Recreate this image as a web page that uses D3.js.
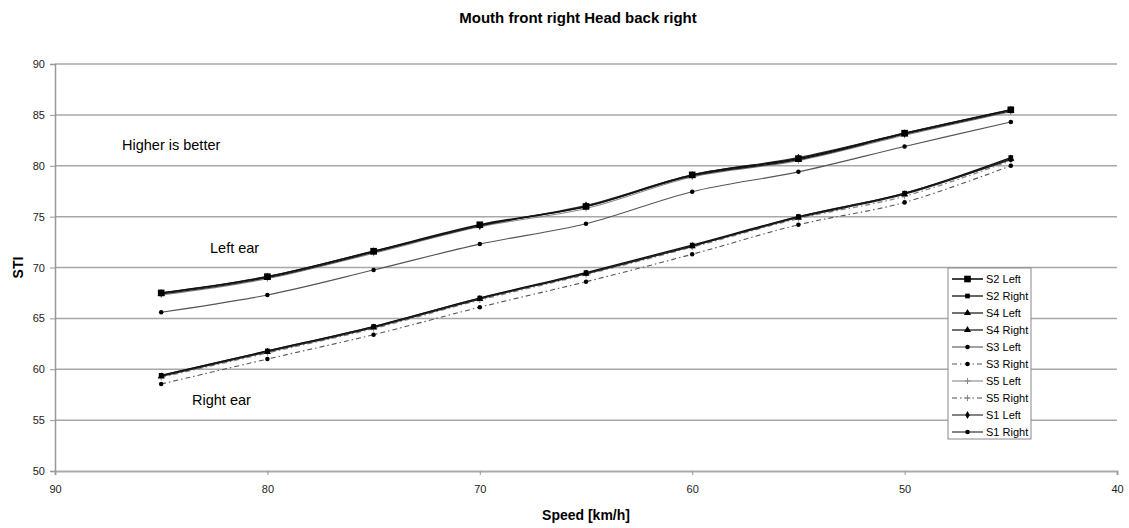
<!DOCTYPE html>
<html>
<head>
<meta charset="utf-8">
<script src="https://cdn.jsdelivr.net/npm/d3@7"></script>
<style>
  html, body { margin: 0; padding: 0; background: #fff; }
  svg { display: block; font-family: "Liberation Sans", Arial, sans-serif; }
</style>
</head>
<body>
<svg id="chart" width="1129" height="528"></svg>
<script>
// Speeds along the x axis (reversed: fast on the left)
const speeds = [85, 80, 75, 70, 65, 60, 55, 50, 45];

// STI values per subject and ear
const s2Left  = [67.5, 69.1, 71.6, 74.2, 76.0, 79.1, 80.7, 83.2, 85.5];
const s2Right = [59.4, 61.8, 64.2, 67.0, 69.5, 72.2, 75.0, 77.3, 80.8];
const s4Left  = [67.4, 69.0, 71.5, 74.1, 76.0, 79.0, 80.6, 83.1, 85.4];
const s4Right = [59.3, 61.7, 64.1, 66.9, 69.4, 72.1, 74.9, 77.2, 80.7];
const s3Left  = [65.6, 67.3, 69.75, 72.3, 74.3, 77.45, 79.4, 81.9, 84.3];
const s3Right = [58.55, 61.0, 63.4, 66.1, 68.6, 71.3, 74.2, 76.4, 80.0];
const s5Left  = [67.3, 68.9, 71.4, 74.0, 75.8, 78.9, 80.5, 83.0, 85.3];
const s5Right = [59.2, 61.6, 64.0, 66.8, 69.3, 72.0, 74.8, 77.0, 80.5];
const s1Left  = [67.5, 69.1, 71.6, 74.1, 76.1, 79.1, 80.8, 83.2, 85.5];
const s1Right = [59.4, 61.8, 64.2, 67.0, 69.4, 72.1, 75.0, 77.3, 80.6];

const xTicks = [90, 80, 70, 60, 50, 40];
const yTicks = [50, 55, 60, 65, 70, 75, 80, 85, 90];

const seriesNames = ["S2 Left", "S2 Right", "S4 Left", "S4 Right", "S3 Left",
                     "S3 Right", "S5 Left", "S5 Right", "S1 Left", "S1 Right"];
const seriesValues = [s2Left, s2Right, s4Left, s4Right, s3Left,
                      s3Right, s5Left, s5Right, s1Left, s1Right];

// Drawing style of each series
const styles = {
  "S2 Left":  { color: "#111", width: 1.6, dash: null, marker: "square", size: 44 },
  "S2 Right": { color: "#111", width: 1.3, dash: null, marker: "square", size: 22 },
  "S4 Left":  { color: "#222", width: 1.3, dash: null, marker: "triangle", size: 22 },
  "S4 Right": { color: "#222", width: 1.3, dash: null, marker: "triangle", size: 22 },
  "S3 Left":  { color: "#555", width: 1.1, dash: null, marker: "circle", size: 16 },
  "S3 Right": { color: "#555", width: 1.1, dash: "5,3,1.5,3", marker: "circle", size: 16 },
  "S5 Left":  { color: "#888", width: 1.1, dash: null, marker: "cross", size: 14 },
  "S5 Right": { color: "#888", width: 1.3, dash: "5,3,1.5,3", marker: "cross", size: 14 },
  "S1 Left":  { color: "#333", width: 1.2, dash: null, marker: "diamond", size: 18 },
  "S1 Right": { color: "#333", width: 1.2, dash: null, marker: "circle", size: 16 }
};

const svg = d3.select("#chart");
const plotLeft = 55, plotRight = 1117, plotTop = 64, plotBottom = 471;

const x = d3.scaleLinear().domain([90, 40]).range([plotLeft, plotRight]);
const y = d3.scaleLinear().domain([50, 90]).range([plotBottom, plotTop]);

// Horizontal gridlines
svg.append("g")
  .selectAll("line")
  .data(yTicks.filter(v => v > 50))
  .join("line")
  .attr("x1", plotLeft).attr("x2", plotRight)
  .attr("y1", d => y(d)).attr("y2", d => y(d))
  .attr("stroke", "#a8a8a8").attr("stroke-width", 1.5);

// Axes
const xAxis = svg.append("g")
  .attr("transform", `translate(0,${plotBottom})`)
  .call(d3.axisBottom(x).tickValues(xTicks).tickSize(4).tickPadding(10).tickFormat(d3.format("d")));
const yAxis = svg.append("g")
  .attr("transform", `translate(${plotLeft},0)`)
  .call(d3.axisLeft(y).tickValues(yTicks).tickSize(5).tickPadding(5).tickFormat(d3.format("d")));

[xAxis, yAxis].forEach(g => {
  g.select(".domain").attr("stroke", "#999").attr("stroke-width", 1.5);
  g.selectAll(".tick line").attr("stroke", "#999");
  g.selectAll(".tick text").attr("fill", "#222").attr("font-size", 11)
    .attr("font-family", "'Liberation Sans', Arial, sans-serif");
});
xAxis.select(".domain").attr("stroke", "#aaa").attr("stroke-width", 2);

// Series lines
const line = d3.line()
  .x((d, i) => x(speeds[i]))
  .y(d => y(d))
  .curve(d3.curveCatmullRom.alpha(0.5));

const symbolType = {
  square: d3.symbolSquare,
  triangle: d3.symbolTriangle,
  circle: d3.symbolCircle,
  diamond: d3.symbolDiamond
};

function drawMarker(g, name, cx, cy) {
  const st = styles[name];
  if (st.marker === "cross") {
    const h = 3;
    g.append("path")
      .attr("d", `M${cx - h},${cy}H${cx + h}M${cx},${cy - h}V${cy + h}`)
      .attr("stroke", st.color).attr("stroke-width", 1).attr("fill", "none");
  } else {
    g.append("path")
      .attr("d", d3.symbol().type(symbolType[st.marker]).size(st.size)())
      .attr("transform", `translate(${cx},${cy})`)
      .attr("fill", "#000");
  }
}

// Draw weaker series first so the dark ones stay on top
const drawOrder = [6, 7, 4, 5, 8, 9, 2, 3, 1, 0];
const plot = svg.append("g");
drawOrder.forEach(k => {
  const st = styles[seriesNames[k]];
  plot.append("path")
    .datum(seriesValues[k])
    .attr("d", line)
    .attr("fill", "none")
    .attr("stroke", st.color)
    .attr("stroke-width", st.width)
    .attr("stroke-dasharray", st.dash);
});
drawOrder.forEach(k => {
  const mg = plot.append("g");
  seriesValues[k].forEach((v, i) => drawMarker(mg, seriesNames[k], x(speeds[i]), y(v)));
});

// Annotations
const ann = svg.append("g").attr("font-size", 14.5).attr("fill", "#000");
ann.append("text").attr("x", 122).attr("y", 150).text("Higher is better");
ann.append("text").attr("x", 210).attr("y", 253).text("Left ear");
ann.append("text").attr("x", 192).attr("y", 405).text("Right ear");

// Title and axis titles
svg.append("text")
  .attr("x", 578).attr("y", 23)
  .attr("text-anchor", "middle")
  .attr("font-size", 15).attr("font-weight", "bold")
  .text("Mouth front right Head back right");
svg.append("text")
  .attr("x", 586).attr("y", 520)
  .attr("text-anchor", "middle")
  .attr("font-size", 14).attr("font-weight", "bold")
  .text("Speed [km/h]");
svg.append("text")
  .attr("transform", `translate(23,${(plotTop + plotBottom) / 2}) rotate(-90)`)
  .attr("text-anchor", "middle")
  .attr("font-size", 14).attr("font-weight", "bold")
  .text("STI");

// Legend
const lgX = 948, lgY = 268, lgW = 83, rowH = 17;
const legend = svg.append("g");
legend.append("rect")
  .attr("x", lgX).attr("y", lgY)
  .attr("width", lgW).attr("height", rowH * seriesNames.length + 1)
  .attr("fill", "#fff").attr("stroke", "#888").attr("stroke-width", 1);
seriesNames.forEach((name, i) => {
  const st = styles[name];
  const cy = lgY + 11 + i * rowH;
  legend.append("line")
    .attr("x1", lgX + 4).attr("x2", lgX + 35)
    .attr("y1", cy).attr("y2", cy)
    .attr("stroke", st.color).attr("stroke-width", st.width)
    .attr("stroke-dasharray", st.dash);
  drawMarker(legend, name, lgX + 19.5, cy);
  legend.append("text")
    .attr("x", lgX + 38).attr("y", cy + 4)
    .attr("font-size", 11).attr("fill", "#000")
    .text(name);
});
</script>
</body>
</html>
